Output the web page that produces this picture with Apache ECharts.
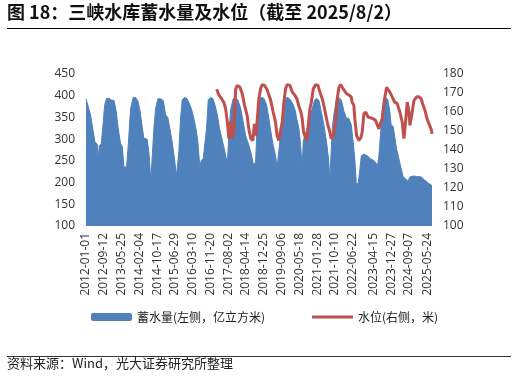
<!DOCTYPE html>
<html>
<head>
<meta charset="utf-8">
<script src="https://cdn.jsdelivr.net/npm/echarts/dist/echarts.min.js"></script>
<style>
  html, body { margin: 0; padding: 0; background: #fff; }
  #main { width: 516px; height: 377px; }
</style>
</head>
<body>
<div id="main"></div>
<script>
// tick labels shown on the x axis
var tickLabels = ['2012-01-01', '2012-09-12', '2013-05-25', '2014-02-04', '2014-10-17',
  '2015-06-29', '2016-03-10', '2016-11-20', '2017-08-02', '2018-04-14', '2018-12-25',
  '2019-09-06', '2020-05-18', '2021-01-28', '2021-10-10', '2022-06-22', '2023-04-15',
  '2023-12-27', '2024-09-07', '2025-05-24'];

// 蓄水量 (亿立方米)
var storage = [
  ['2012-01-01',393],['2012-01-29',390],['2012-03-07',355],['2012-04-14',317],['2012-05-08',294],['2012-06-10',288],['2012-06-25',255],['2012-07-09',285],['2012-08-07',288],['2012-09-05',340],['2012-09-25',379],['2012-10-23',394],['2012-11-26',394],['2012-12-29',390],
  ['2013-02-06',389],['2013-03-09',364],['2013-04-07',325],['2013-05-10',290],['2013-06-04',283],['2013-06-28',236],['2013-08-05',236],['2013-08-29',287],['2013-10-02',371],['2013-11-09',396],['2013-12-12',396],
  ['2014-01-15',388],['2014-02-13',366],['2014-03-16',329],['2014-04-10',302],['2014-05-27',300],['2014-06-20',271],['2014-07-19',205],['2014-08-08',260],['2014-09-01',325],['2014-09-25',370],['2014-10-28',393],['2014-12-05',393],
  ['2015-01-13',389],['2015-02-16',356],['2015-03-19',350],['2015-04-17',325],['2015-05-20',294],['2015-06-23',255],['2015-07-21',215],['2015-08-10',215],['2015-08-24',270],['2015-09-18',348],['2015-10-11',390],['2015-11-14',396],['2015-12-22',393],
  ['2016-01-16',389],['2016-02-19',371],['2016-03-26',348],['2016-04-25',325],['2016-05-23',294],['2016-06-21',235],['2016-07-10',251],['2016-08-08',255],['2016-08-27',255],['2016-09-25',325],['2016-10-19',390],['2016-11-22',396],['2016-12-25',393],
  ['2017-01-23',379],['2017-02-26',356],['2017-03-29',325],['2017-05-07',298],['2017-06-10',275],['2017-07-20',244],['2017-08-11',309],['2017-09-05',367],['2017-10-12',393],['2017-11-15',396],['2017-12-18',390],
  ['2018-01-27',371],['2018-03-04',340],['2018-04-07',309],['2018-05-24',286],['2018-06-27',267],['2018-07-25',244],['2018-08-28',244],['2018-09-21',333],['2018-10-15',389],['2018-11-18',396],['2018-12-26',394],
  ['2019-02-03',379],['2019-03-07',348],['2019-04-01',321],['2019-05-08',286],['2019-06-11',263],['2019-07-04',236],['2019-07-28',240],['2019-08-21',309],['2019-09-29',371],['2019-11-02',394],['2019-12-05',396],
  ['2020-01-13',390],['2020-02-20',379],['2020-03-23',364],['2020-04-08',348],['2020-05-11',325],['2020-06-04',286],['2020-06-28',236],['2020-07-12',294],['2020-08-05',309],['2020-09-08',325],['2020-10-16',348],['2020-11-19',371],['2020-12-22',390],
  ['2021-01-20',394],['2021-02-23',389],['2021-03-26',364],['2021-05-04',333],['2021-06-11',294],['2021-07-10',255],['2021-07-29',209],['2021-08-17',270],['2021-09-02',325],['2021-09-25',356],['2021-10-28',389],['2021-12-06',396],
  ['2022-01-09',390],['2022-02-17',364],['2022-03-24',348],['2022-04-27',348],['2022-06-01',333],['2022-06-28',294],['2022-07-22',255],['2022-08-13',196],['2022-09-11',200],['2022-10-24',262],['2022-11-29',265],
  ['2023-01-16',262],['2023-03-03',255],['2023-04-20',251],['2023-05-28',244],['2023-06-07',232],['2023-07-01',259],['2023-07-25',309],['2023-08-18',364],['2023-09-12',390],['2023-10-10',396],['2023-11-08',390],['2023-12-06',364],['2023-12-25',333],
  ['2024-01-23',329],['2024-02-12',309],['2024-03-11',278],['2024-04-14',255],['2024-05-17',232],['2024-06-15',213],['2024-07-18',209],['2024-08-21',203],['2024-09-19',213],['2024-11-06',215],
  ['2025-01-03',214],['2025-02-28',213],['2025-04-17',206],['2025-06-18',198],['2025-08-02',193]
];

// 水位 (米)
var level = [
  ['2017-02-17',172],['2017-03-20',169],['2017-04-28',167],['2017-06-01',165],['2017-06-25',161.7],['2017-07-09',158],['2017-07-28',152],['2017-08-11',146],['2017-09-05',155],['2017-09-29',146],['2017-10-22',151],['2017-11-16',172],['2017-12-09',174],
  ['2018-01-17',173],['2018-02-19',169.6],['2018-03-24',163.5],['2018-05-01',158],['2018-05-24',151],['2018-06-22',146],['2018-07-21',145],['2018-08-12',153.7],['2018-09-03',147.6],['2018-09-21',155.6],['2018-10-15',167],['2018-11-09',172.3],['2018-12-02',174.4],
  ['2019-01-06',174],['2019-02-13',171.6],['2019-03-07',169],['2019-04-01',166.4],['2019-05-08',160],['2019-06-11',154.7],['2019-07-04',147.6],['2019-07-28',145],['2019-08-22',146],['2019-09-15',154.7],['2019-10-09',165.2],['2019-11-02',172.3],['2019-11-26',174.4],
  ['2020-01-04',174],['2020-02-06',170.5],['2020-03-10',169],['2020-04-13',167],['2020-05-11',163],['2020-06-09',160],['2020-06-28',156.4],['2020-07-17',149.4],['2020-08-30',145],['2020-09-18',151.2],['2020-10-16',161.7],['2020-11-05',165],['2020-12-04',172.3],
  ['2021-01-07',174.4],['2021-02-09',174],['2021-03-08',170.5],['2021-04-11',167],['2021-05-14',161.7],['2021-06-21',154.7],['2021-07-29',149.4],['2021-08-18',146],['2021-09-25',147.6],['2021-10-20',156.4],['2021-11-12',167],['2021-12-06',173],['2021-12-31',174.4],
  ['2022-01-23',173],['2022-02-16',171.6],['2022-03-26',169.6],['2022-04-28',169],['2022-05-31',168],['2022-06-14',165.2],['2022-07-08',163.5],['2022-07-22',156.4],['2022-08-17',147.6],['2022-09-19',145],['2022-10-17',146.5],['2022-11-05',149.4],['2022-11-29',159],['2022-12-28',160],
  ['2023-01-27',157.3],['2023-03-04',157],['2023-04-11',156.4],['2023-05-15',155.6],['2023-06-07',154.7],['2023-07-01',151.2],['2023-07-26',150.4],['2023-08-18',156.4],['2023-09-22',167],['2023-10-21',173],['2023-11-13',174],['2023-12-07',170.5],
  ['2024-01-10',168],['2024-02-13',165.2],['2024-03-21',164.4],['2024-04-28',160],['2024-06-01',154.7],['2024-06-25',146],['2024-07-19',154.7],['2024-08-12',165.2],['2024-09-06',160],['2024-09-20',153],['2024-10-14',158],['2024-11-16',166],['2024-12-25',168],
  ['2025-01-28',168],['2025-02-27',167],['2025-03-28',163.5],['2025-04-22',161],['2025-05-24',156.4],['2025-06-18',154],['2025-07-27',150.3],['2025-08-02',148.5]
];

var nameStorage = '蓄水量(左侧，亿立方米)';
var nameLevel = '水位(右侧，米)';

// daily categories from first to last date
function buildDays(from, to) {
  var out = [];
  var t = Date.parse(from + 'T00:00:00Z'), end = Date.parse(to + 'T00:00:00Z');
  while (t <= end) {
    out.push(new Date(t).toISOString().slice(0, 10));
    t += 86400000;
  }
  return out;
}
var days = buildDays('2012-01-01', '2025-08-02');

var font = '"Noto Sans CJK SC", "Noto Sans", sans-serif';
var chart = echarts.init(document.getElementById('main'));

var option = {
  backgroundColor: '#fff',
  animation: false,
  textStyle: { fontFamily: font },
  graphic: [
    { type: 'text', left: 7, top: 3,
      style: { text: '图 18：三峡水库蓄水量及水位（截至 2025/8/2）', font: 'bold 18px ' + font, fill: '#111' } },
    { type: 'line', shape: { x1: 7, y1: 28.5, x2: 511, y2: 28.5 }, style: { stroke: '#000', lineWidth: 1 } },
    { type: 'line', shape: { x1: 7, y1: 356.5, x2: 511, y2: 356.5 }, style: { stroke: '#333', lineWidth: 1 } },
    { type: 'text', left: 7, top: 357,
      style: { text: '资料来源：Wind，光大证券研究所整理', font: '13px ' + font, fill: '#222' } }
  ],
  legend: [
    { left: 86, top: 306, itemWidth: 41, itemHeight: 8, itemGap: 5, selectedMode: false,
      textStyle: { fontSize: 12, color: '#222', fontFamily: font },
      data: [{ name: nameStorage, icon: 'roundRect' }] },
    { left: 307, top: 306, itemWidth: 41, itemHeight: 3, selectedMode: false,
      textStyle: { fontSize: 12, color: '#222', fontFamily: font },
      data: [{ name: nameLevel, icon: 'rect' }] }
  ],
  grid: { left: 86, right: 84, top: 74, bottom: 151 },
  xAxis: {
    type: 'category',
    data: days,
    boundaryGap: false,
    offset: -2,
    axisLine: { lineStyle: { color: '#cfdcee', width: 1.5 } },
    axisTick: { show: false },
    axisLabel: {
      rotate: 90,
      margin: 9,
      fontSize: 12,
      color: '#333',
      fontFamily: 'Open Sans, sans-serif',
      interval: function (idx, val) { return tickLabels.indexOf(val) >= 0; }
    }
  },
  yAxis: [
    { type: 'value', min: 100, max: 450, interval: 50,
      axisLine: { show: false }, axisTick: { show: false }, splitLine: { show: false },
      axisLabel: { fontSize: 12, color: '#333', margin: 11, fontFamily: 'Open Sans, sans-serif' } },
    { type: 'value', min: 100, max: 180, interval: 10,
      axisLine: { show: false }, axisTick: { show: false }, splitLine: { show: false },
      axisLabel: { fontSize: 12, color: '#333', margin: 11, fontFamily: 'Open Sans, sans-serif' } }
  ],
  series: [
    { name: nameStorage, type: 'line', yAxisIndex: 0, data: storage,
      symbol: 'none', color: '#4f81bd',
      lineStyle: { width: 1, color: '#4f81bd' },
      areaStyle: { color: '#4f81bd', opacity: 1 }, z: 1 },
    { name: nameLevel, type: 'line', yAxisIndex: 1, data: level,
      symbol: 'none', color: '#c0504d',
      lineStyle: { width: 3, color: '#c0504d' }, z: 3 }
  ]
};
chart.setOption(option);
</script>
</body>
</html>
